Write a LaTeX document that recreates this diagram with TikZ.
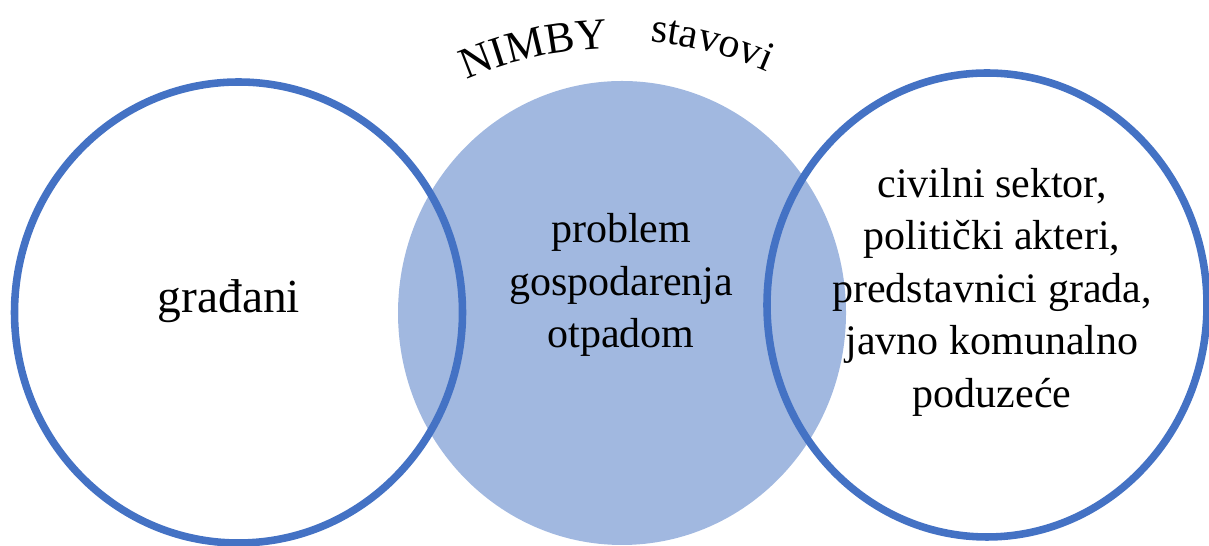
\documentclass[tikz,border=0pt]{standalone}
\usepackage{fontspec}
\setmainfont{Liberation Serif}
\usetikzlibrary{calc,decorations.text}
\definecolor{vennline}{RGB}{68,114,196}
\definecolor{vennfill}{RGB}{161,184,224}
\newcommand{\vennfont}{\fontsize{23.9}{29.9}\selectfont}

\begin{document}
\begin{tikzpicture}[x=0.02cm,y=0.02cm,
		ring/.style={draw=vennline, line width=4.3pt},
		label/.style={align=center, inner sep=0pt, font=\vennfont}]
	\useasboundingbox (0,0) rectangle (1209,546);
	\coordinate (cL) at (238.5,233.5);
	\coordinate (cM) at (622,233);
	\coordinate (cR) at (987,241);
	\coordinate (arcC) at (615,126);
	
	\fill[vennfill] (cM) ellipse [x radius=224, y radius=232];
	
	\draw[ring] (cL) ellipse [x radius=224, y radius=230.5];
	\draw[ring] (cR) ellipse [x radius=220, y radius=232];
	
	\node[label, font=\fontsize{27}{30}\selectfont] (gradjani) at (229,245) {građani};
	\node[label] (problem) at (621,260.7) {problem\\gospodarenja\\otpadom};
	\node[label] (akteri) at (992,253.7) {civilni sektor,\\politički akteri,\\predstavnici grada,\\javno komunalno\\poduzeće};
	
	% arched title
	\path[decorate, decoration={text along path, text={|\fontsize{25}{30}\selectfont|NIMBY}}]
	($(arcC)+(4,-8)$) ++(113.7:380) arc [start angle=113.7, end angle=88, radius=380];
	\path[decorate, decoration={text along path, text={|\vennfont|stavovi}}]
	(arcC) ++(84.7:380) arc [start angle=84.7, end angle=58, radius=380];
\end{tikzpicture}
\end{document}
